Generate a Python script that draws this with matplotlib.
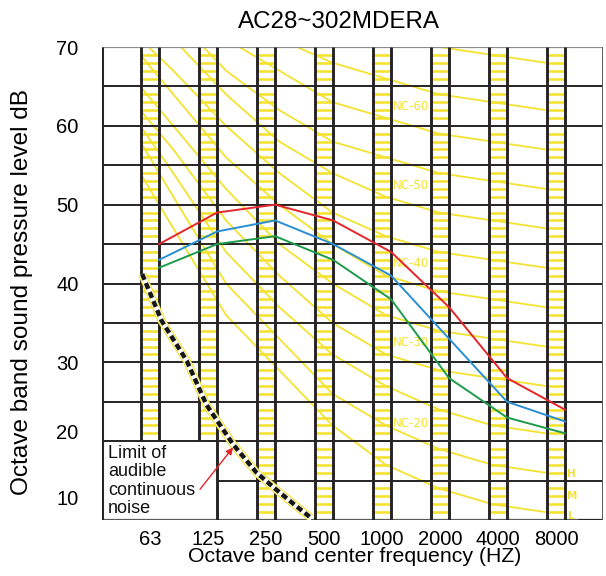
import numpy as np
import matplotlib
matplotlib.use('Agg')
import matplotlib.pyplot as plt

plt.rcParams['font.family'] = ['Liberation Sans', 'DejaVu Sans']

# ---------------- data ----------------
title = 'AC28~302MDERA'
bands = ['63', '125', '250', '500', '1000', '2000', '4000', '8000']
red_db = [45, 49, 50, 48, 44, 37, 28, 24]
blue_db = [43, 46.6, 48, 45, 41, 33, 25, 22.5]
green_db = [42, 45, 46, 43, 38, 28, 23, 21]

y_tick_labels = ['10', '20', '30', '40', '50', '60', '70']
y_tick_values = [12.9, 21.2, 30, 40, 50, 60, 70]

nc_freq_hz = [41, 63, 125, 250, 500, 1000, 2000, 4000, 8000]
nc_15 = [54, 47, 36, 29, 22, 17, 14, 12, 11]
nc_20 = [58, 51, 40, 33, 26, 22, 19, 17, 16]
nc_25 = [60, 54, 44, 37, 31, 27, 24, 22, 21]
nc_30 = [62, 57, 48, 41, 35, 31, 29, 28, 27]
nc_35 = [65, 60, 52, 45, 40, 36, 34, 33, 32]
nc_40 = [69, 64, 56, 50, 45, 41, 39, 38, 37]
nc_45 = [71, 67, 60, 54, 49, 46, 44, 43, 42]
nc_50 = [75, 71, 64, 58, 54, 51, 49, 48, 47]
nc_55 = [78, 74, 67, 62, 58, 56, 54, 53, 52]
nc_60 = [81, 77, 71, 67, 63, 61, 59, 58, 57]
nc_65 = [83, 80, 75, 71, 68, 66, 64, 63, 62]
nc_70 = [86, 83, 79, 75, 72, 71, 70, 69, 68]
nc_curves = [nc_15, nc_20, nc_25, nc_30, nc_35, nc_40, nc_45, nc_50,
             nc_55, nc_60, nc_65, nc_70]
nc_label_text = ['NC-60', 'NC-50', 'NC-40', 'NC-30', 'NC-20']
nc_label_db = [62.4, 52.4, 42.5, 32.5, 22.3]

limit_freq_hz = [42, 54, 75, 97, 137, 186, 242, 314, 381]
limit_db = [41.2, 35.3, 30.2, 24.6, 19.6, 16.0, 13.8, 11.7, 10.2]

hml_text = ['H', 'M', 'L']
hml_db = [15.8, 13.0, 10.5]

# ---------------- style ----------------
YEL = '#f3e230'
GRID = '#262324'
RED = '#e3262a'
BLUE = '#2a8fd2'
GREEN = '#1d9a4a'

W, H = 606, 576
fig = plt.figure(figsize=(W / 100, H / 100), dpi=100)
rect = [102 / W, 1 - 520 / H, (603 - 102) / W, (520 - 47) / H]
ax = fig.add_axes(rect)
X0, X1 = -0.83, 7.81
ax.set_xlim(X0, X1)
ax.set_ylim(10, 70)
for s in ax.spines.values():
    s.set_visible(False)

# secondary log-frequency scale used by the NC curves
NC_A, NC_B = 0.40, 0.919
ax_nc = fig.add_axes(rect)
ax_nc.set_xscale('log')
ax_nc.set_xlim(63 * 2 ** ((X0 - NC_A) / NC_B), 63 * 2 ** ((X1 - NC_A) / NC_B))
ax_nc.set_ylim(10, 70)
ax_nc.set_axis_off()

HW = 0.155  # half width of band stripe
n = len(bands)
box_right = 1 + HW

# ladder rungs
rungs = np.array([v for v in range(11, 70) if v % 5 != 0])
for i in range(n):
    r = rungs if i > 1 else rungs[rungs > 20]
    ax.hlines(r, i - HW, i + HW, color=YEL, lw=1.9, zorder=1)

# NC curves
for vals in nc_curves:
    ax.plot(nc_freq_hz, vals, color=YEL, lw=1.3, zorder=2,
            transform=ax_nc.transData, solid_capstyle='butt')

# horizontal grid
for v in range(20, 70, 5):
    ax.hlines(v, X0, X1, color=GRID, lw=1.4, zorder=3)
ax.hlines(15, box_right, X1, color=GRID, lw=1.4, zorder=3)
ax.hlines(70, X0, X1, color='#8c8c8c', lw=1.6, zorder=3)
ax.hlines(10, X0, X1, color='#5a5a5a', lw=1.6, zorder=3)
ax.hlines(10, 7.38, X1, color=GRID, lw=2.2, zorder=3)

# vertical stripe lines
for i in range(n):
    lo_l = 20 if i <= 1 else 10
    lo_r = 20 if i == 0 else 10
    ax.vlines(i - HW, lo_l, 70, color=GRID, lw=2.1, zorder=3)
    ax.vlines(i + HW, lo_r, 70, color=GRID, lw=2.1, zorder=3)
ax.vlines(X0, 10, 70, color=GRID, lw=2.2, zorder=3)
ax.vlines(X1, 10, 70, color='#5a5a5a', lw=1.4, zorder=3)

# limit of audible noise curve
ax.plot(limit_freq_hz, limit_db, color=YEL, lw=5.8, zorder=4,
        transform=ax_nc.transData, solid_capstyle='butt')
ax.plot(limit_freq_hz, limit_db, color='white', lw=4.2, zorder=4,
        transform=ax_nc.transData, solid_capstyle='butt')
ax.plot(limit_freq_hz, limit_db, color='#151515', lw=3.2, zorder=4,
        transform=ax_nc.transData, dashes=(1.4, 0.8))

# NC labels
for t, v in zip(nc_label_text, nc_label_db):
    ax.text(4.5, v, t, color=YEL, fontsize=8.5, family='DejaVu Sans',
            ha='center', va='center', zorder=5)
for t, v in zip(hml_text, hml_db):
    ax.text(7.27, v, t, color=YEL, fontsize=7.5, family='DejaVu Sans',
            ha='center', va='center', fontweight='bold', zorder=5)

# measured spectra
xs = np.arange(n) + HW
ax.plot(xs, red_db, color=RED, lw=1.4, zorder=6)
ax.plot(xs, blue_db, color=BLUE, lw=1.4, zorder=6)
ax.plot(xs, green_db, color=GREEN, lw=1.4, zorder=6)

# text box
lines = ['Limit of', 'audible', 'continuous', 'noise']
for k, t in enumerate(lines):
    ax.text(-0.725, 17.85 - k * 2.33, t, fontsize=13, ha='left',
            va='baseline', color='#111111', zorder=7)
ax.annotate('', xy=(1.43, 19.2), xytext=(0.86, 13.9),
            arrowprops=dict(arrowstyle='-|>', color=RED, lw=1.0,
                            mutation_scale=10, shrinkA=0, shrinkB=0),
            zorder=7)

# ticks
ax.set_xticks(np.arange(n))
ax.set_xticklabels(bands, fontsize=14.5)
ax.set_yticks(y_tick_values)
ax.set_yticklabels(y_tick_labels, fontsize=14.5)
ax.tick_params(axis='both', length=0)
ax.tick_params(axis='x', pad=7)
ax.tick_params(axis='y', pad=17)

fig.text(339 / W, 1 - 22 / H, title, fontsize=17.4, ha='center', va='center')
fig.text(355 / W, 1 - 557 / H, 'Octave band center frequency (HZ)',
         fontsize=15.3, ha='center', va='center')
fig.text(22 / W, 1 - 292 / H, 'Octave band sound pressure level dB',
         fontsize=17.6, ha='center', va='center', rotation=90)

fig.savefig('out.png', dpi=100)
